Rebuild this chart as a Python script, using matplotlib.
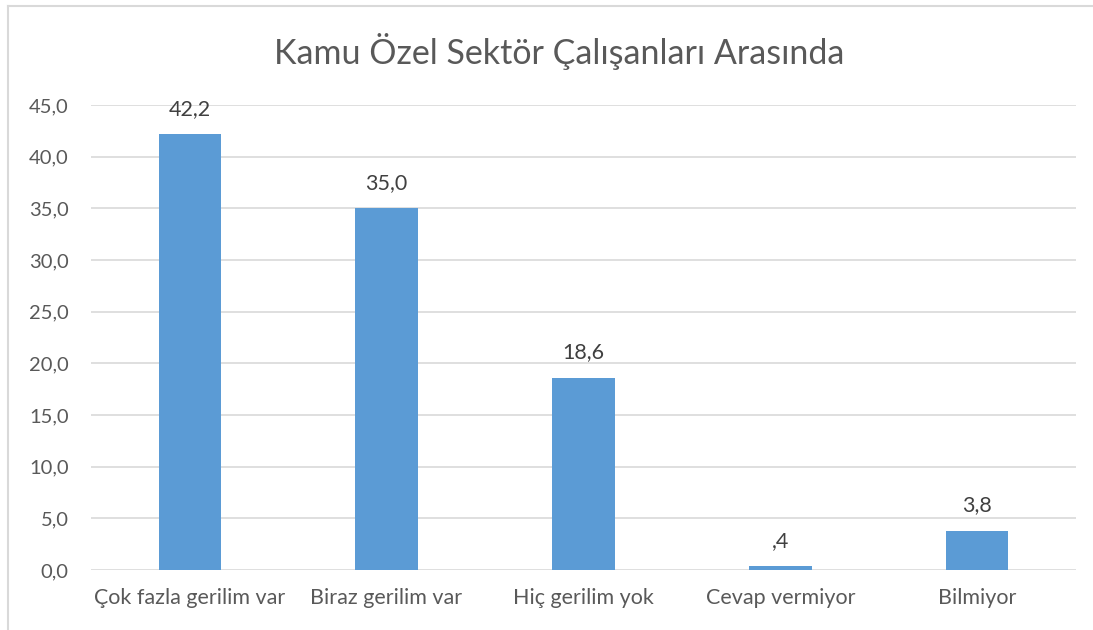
import matplotlib
matplotlib.use("Agg")
import matplotlib.pyplot as plt
from matplotlib.lines import Line2D

categories = ["Çok fazla gerilim var", "Biraz gerilim var", "Hiç gerilim yok", "Cevap vermiyor", "Bilmiyor"]
values = [42.2, 35.0, 18.6, 0.4, 3.8]
value_labels = ["42,2", "35,0", "18,6", ",4", "3,8"]
yticks = [0, 5, 10, 15, 20, 25, 30, 35, 40, 45]
ytick_labels = ["0,0", "5,0", "10,0", "15,0", "20,0", "25,0", "30,0", "35,0", "40,0", "45,0"]
title = "Kamu Özel Sektör Çalışanları Arasında"

plt.rcParams['font.family'] = ['Lato', 'DejaVu Sans']
text_color = "#595959"

fig = plt.figure(figsize=(10.93, 6.30), dpi=100)
ax = fig.add_axes([0.0833, 0.0952, 0.9011, 0.7381])

x = list(range(len(categories)))
bars = ax.bar(x, values, width=0.315, color="#5B9BD5", zorder=3)
ax.set_xlim(-0.5, len(categories) - 0.5)
ax.set_ylim(0, 45)
ax.set_yticks(yticks)
ax.set_yticklabels(ytick_labels, fontsize=14.5, color=text_color)
ax.set_xticks(x)
ax.set_xticklabels(categories, fontsize=15.5, color=text_color)
ax.tick_params(axis='both', length=0)
ax.tick_params(axis='y', pad=16)
ax.tick_params(axis='x', pad=13)
ax.grid(axis='y', color="#D9D9D9", linewidth=1.2, zorder=0)
for s in ax.spines.values():
    s.set_visible(False)

for xi, v, lab in zip(x, values, value_labels):
    ax.annotate(lab, (xi, v), xytext=(0, 11), textcoords="offset points",
                ha="center", va="bottom", fontsize=15.5, color="#404040")

fig.text(0.512, 0.918, title, ha="center", va="center", fontsize=24.5, color=text_color)

# chart border (top and left visible)
fig.add_artist(Line2D([8/1093, 1.0], [1 - 6/630, 1 - 6/630], transform=fig.transFigure, color="#D9D9D9", linewidth=1.5))
fig.add_artist(Line2D([8/1093, 8/1093], [0, 1 - 6/630], transform=fig.transFigure, color="#D9D9D9", linewidth=1.5))

fig.savefig("out.png", dpi=100, facecolor="white")
